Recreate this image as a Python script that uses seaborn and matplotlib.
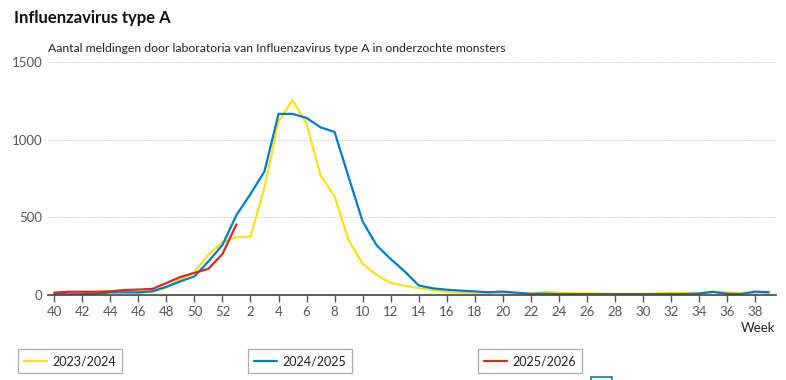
import pandas as pd
import matplotlib
matplotlib.use("Agg")
import matplotlib.pyplot as plt
from matplotlib.lines import Line2D
from matplotlib.patches import Rectangle
import seaborn as sns

# seizoensweken 40 t/m 39
weeks = list(range(40, 53)) + list(range(1, 40))

s2324 = [6, 4, 5, 17, 25, 20, 15, 20, 49, 100, 149, 260, 340,
         372, 376, 691, 1117, 1255, 1102, 770, 636, 353, 201, 130, 77, 60,
         45, 34, 19, 15, 12, 12, 12, 8, 8, 20, 14, 10, 10, 10, 8, 8,
         8, 10, 14, 12, 10, 22, 15, 15, 12, 12]
s2425 = [6, 4, 5, 8, 17, 17, 17, 24, 53, 88, 120, 216, 322,
         515, 650, 796, 1166, 1166, 1140, 1079, 1050, 760, 474, 320, 232, 152,
         62, 43, 34, 28, 23, 18, 22, 15, 8, 8, 6, 6, 6, 6, 6, 6,
         6, 6, 6, 6, 10, 20, 8, 6, 22, 18]
s2526 = [15, 21, 21, 21, 23, 32, 35, 39, 77, 116, 142, 169, 264, 455]

seasons = ["2023/2024", "2024/2025", "2025/2026"]
colors = ["#F9E11E", "#007BC7", "#D52B1E"]

rows = []
for name, vals in zip(seasons, [s2324, s2425, s2526]):
    for i, v in enumerate(vals):
        rows.append({"pos": i, "week": weeks[i], "aantal": v, "seizoen": name})
df = pd.DataFrame(rows)

sns.set_theme(style="white")
plt.rcParams["font.family"] = ["Lato", "DejaVu Sans"]

fig = plt.figure(figsize=(7.86, 3.8), dpi=100)
ax = fig.add_axes([48 / 786, 85 / 380, 728 / 786, 233 / 380])

sns.lineplot(data=df, x="pos", y="aantal", hue="seizoen", hue_order=seasons,
             palette=colors, linewidth=1.6, legend=False, ax=ax)

ax.set_xlim(-0.45, 51.5)
ax.set_ylim(0, 1500)
ax.set_yticks([0, 500, 1000, 1500])
ax.set_xticks(range(0, 51, 2))
ax.set_xticklabels([str(weeks[i]) for i in range(0, 51, 2)])
ax.tick_params(axis="x", length=5, width=1, color="#555555", labelsize=9.5,
               labelcolor="#555555", pad=3, bottom=True)
ax.tick_params(axis="y", length=0, labelsize=9.5, labelcolor="#555555", pad=4)
for y in [500, 1000, 1500]:
    ax.axhline(y, color="#cccccc", lw=0.8, ls=(0, (1, 1)), zorder=0)
for s in ["top", "right", "left"]:
    ax.spines[s].set_visible(False)
ax.spines["bottom"].set_color("#444444")
ax.spines["bottom"].set_linewidth(1.2)
ax.set_xlabel("")
ax.set_ylabel("")

fig.text(14 / 786, 1 - 18 / 380, "Influenzavirus type A", fontsize=12,
         fontweight="bold", color="#111111", va="center")
fig.text(48 / 786, 1 - 48 / 380,
         "Aantal meldingen door laboratoria van Influenzavirus type A in onderzochte monsters",
         fontsize=8.8, color="#222222", va="center")
fig.text(775 / 786, 1 - 328 / 380, "Week", fontsize=9.5, color="#222222",
         ha="right", va="center")

# drie losse legendakaders
lx = [18, 248, 478]
for x0, name, c in zip(lx, seasons, colors):
    h = Line2D([], [], color=c, lw=1.6)
    leg = fig.legend([h], [name], loc="center left",
                     bbox_to_anchor=(x0 / 786, 1 - 361 / 380),
                     frameon=True, fancybox=False, fontsize=9,
                     handlelength=1.85, borderpad=0.45, borderaxespad=0,
                     handletextpad=0.45)
    leg.get_frame().set_edgecolor("#999999")
    leg.get_frame().set_linewidth(0.9)
    for t in leg.get_texts():
        t.set_color("#222222")

# afgesneden knopje onderaan
fig.patches.append(Rectangle((591 / 786, -0.01), 21 / 786, 3 / 380 + 0.01,
                             transform=fig.transFigure, fill=False,
                             edgecolor="#1f6fa8", lw=1.2))

fig.savefig("out.png", dpi=100)
